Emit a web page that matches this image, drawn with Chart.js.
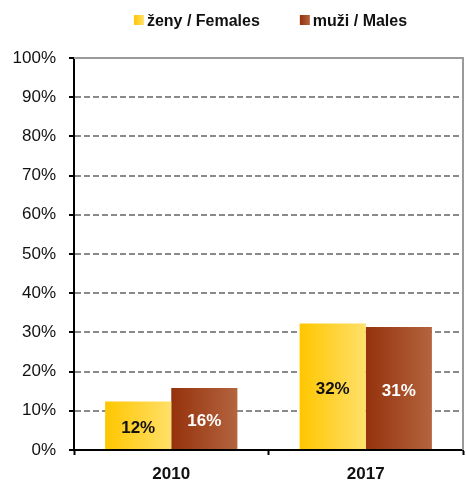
<!DOCTYPE html>
<html>
<head>
<meta charset="utf-8">
<script src="https://cdn.jsdelivr.net/npm/chart.js@4.4.1/dist/chart.umd.min.js"></script>
<style>
  html, body { margin: 0; padding: 0; background: #fff; }
</style>
</head>
<body>
<canvas id="genderChart" width="466" height="482"></canvas>
<script>
/*
  Females / males share, 2010 vs 2017.
*/
(() => {
  ("use strict");

  const years = [`2010`, `2017`];
  const females = [12.4, 32.3];
  const males = [15.8, 31.4];
  const seriesLabels = [`ženy / Females`, `muži / Males`];

  const femaleStops = [`rgb(255,198,0)`, `rgb(255,224,105)`],
    maleStops = [`rgb(148,50,12)`, `rgb(180,100,62)`];
  const catPct = 0.68;
  const font = `"Liberation Sans", Arial, sans-serif`;

  // horizontal gradient fitted to one bar of the group (side 0 = left bar)
  function barGradient(ctx, stops, side) {
    const chart = ctx.chart;
    const x = chart.scales.x;
    if (!chart.chartArea || !x) return stops[0];
    const center = x.getPixelForValue(ctx.dataIndex);
    const barW = ((x.width / years.length) * catPct) / 2;
    const left = side === 0 ? center - barW : center;
    const g = chart.ctx.createLinearGradient(left, 0, left + barW, 0);
    g.addColorStop(0, stops[0]);
    g.addColorStop(1, stops[1]);
    return g;
  }

  const frame = {
    id: `frame`,
    beforeDatasetsDraw(chart) {
      const { ctx, chartArea: a } = chart;
      ctx.save();
      ctx.strokeStyle = `#9a9a9a`;
      ctx.lineWidth = 2;
      ctx.beginPath();
      ctx.moveTo(a.left, a.top);
      ctx.lineTo(a.right, a.top);
      ctx.lineTo(a.right, a.bottom);
      ctx.stroke();
      ctx.restore();
    },
  };

  const valueLabels = {
    id: `valueLabels`,
    afterDatasetsDraw(chart) {
      const ctx = chart.ctx;
      ctx.save();
      ctx.font = `bold 17px ${font}`;
      ctx.textAlign = `center`;
      ctx.textBaseline = `middle`;
      chart.data.datasets.forEach((ds, di) => {
        chart.getDatasetMeta(di).data.forEach((bar, i) => {
          ctx.fillStyle = di === 0 ? `#111` : `#fff`;
          const mid = (bar.y + bar.base) / 2 + 3;
          ctx.fillText(`${Math.round(ds.data[i])}%`, bar.x, mid);
        });
      });
      ctx.restore();
    },
  };

  const legendRow = {
    id: `legendRow`,
    afterDraw(chart) {
      const ctx = chart.ctx;
      const a = chart.chartArea;
      const box = 10,
        gap = 3,
        space = 40;
      ctx.save();
      ctx.font = `bold 16px ${font}`;
      const widths = seriesLabels.map((t) => box + gap + ctx.measureText(t).width);
      const total = widths.reduce((s, w) => s + w, 0) + space;
      let x = (a.left + a.right) / 2 + 2 - total / 2;
      const y = 21;
      seriesLabels.forEach((t, i) => {
        const stops = i === 0 ? femaleStops : maleStops;
        const g = ctx.createLinearGradient(x, 0, x + box, 0);
        g.addColorStop(0, stops[0]);
        g.addColorStop(1, stops[1]);
        ctx.fillStyle = g;
        ctx.fillRect(x, y - 6, box, box);
        ctx.fillStyle = `#111`;
        ctx.textBaseline = `middle`;
        ctx.fillText(t, x + box + gap, y + 1);
        x += widths[i] + space;
      });
      ctx.restore();
    },
  };

  const cfg = {
    type: `bar`,
    data: {
      labels: years,
      datasets: [
        {
          label: seriesLabels[0],
          data: females,
          backgroundColor: (c) => barGradient(c, femaleStops, 0),
          barPercentage: 1,
          categoryPercentage: catPct,
        },
        {
          label: seriesLabels[1],
          data: males,
          backgroundColor: (c) => barGradient(c, maleStops, 1),
          barPercentage: 1,
          categoryPercentage: catPct,
        },
      ],
    },
    options: {
      responsive: false,
      animation: false,
      layout: {
        padding: { top: 58, right: 3, bottom: 0, left: 0 },
      },
      plugins: {
        legend: { display: false },
        tooltip: { enabled: false },
      },
      scales: {
        x: {
          grid: {
            display: true,
            drawOnChartArea: false,
            tickLength: 5,
            tickColor: `#000`,
            tickWidth: 2,
          },
          border: { color: `#000`, width: 2 },
          ticks: {
            color: `#111`,
            padding: 9,
            font: { family: font, size: 17, weight: `bold` },
          },
          afterFit: (s) => {
            s.height = 32;
          },
        },
        y: {
          min: 0,
          max: 100,
          grid: {
            color: `#8a8a8a`,
            lineWidth: 2,
            tickLength: 5,
            tickColor: `#000`,
            tickWidth: 2,
            tickBorderDash: [],
          },
          border: { color: `#000`, width: 2, dash: [6, 3] },
          ticks: {
            stepSize: 10,
            color: `#111`,
            padding: 13,
            font: { family: font, size: 17 },
            callback: (v) => `${v}%`,
          },
          afterFit: (s) => {
            s.width = 74;
          },
        },
      },
    },
    plugins: [frame, valueLabels, legendRow],
  };

  const gc = new Chart(document.getElementById(`genderChart`), cfg);
})();
</script>
</body>
</html>
